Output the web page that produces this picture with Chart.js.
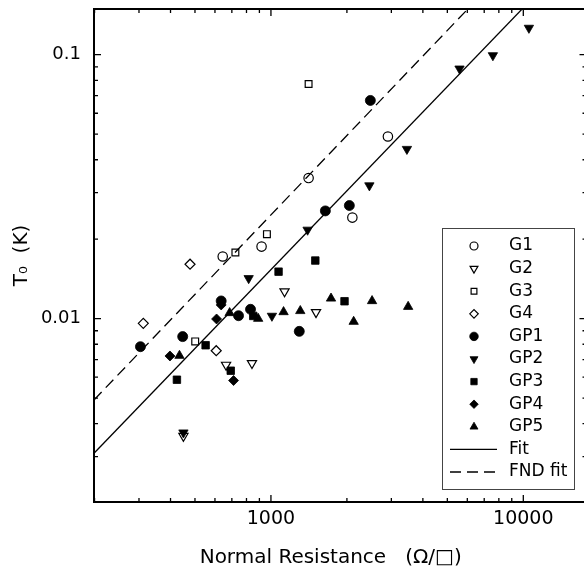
<!DOCTYPE html>
<html>
<head>
<meta charset="utf-8">
<script src="https://cdn.jsdelivr.net/npm/chart.js"></script>
<style>
  html, body { margin: 0; padding: 0; background: #fff; overflow: hidden; }
  #wrap { width: 593px; height: 580px; }
</style>
</head>
<body>
<div id="wrap"><canvas id="c" width="593" height="580"></canvas></div>
<script>
// values: normal resistance (ohm/sq) and T0 (K)
var g1R = [644, 918, 1410, 2907, 2102];
var g1T = [0.0172, 0.01875, 0.0341, 0.049, 0.02415];
var g2R = [1132, 1509, 664, 841, 450];
var g2T = [0.01268, 0.01057, 0.00668, 0.00678, 0.00359];
var g3R = [1410, 964, 723, 501];
var g3T = [0.0774, 0.0209, 0.01782, 0.0082];
var g4R = [478, 312, 607];
var g4T = [0.01608, 0.0096, 0.00756];
var gp1R = [2477, 1643, 2045, 635, 744, 830, 1295, 447, 304];
var gp1T = [0.0671, 0.0256, 0.02683, 0.01167, 0.01026, 0.01085, 0.00895, 0.00855, 0.00783];
var gp2R = [10525, 7576, 5588, 3458, 2455, 1397, 816, 1009, 450];
var gp2T = [0.1263, 0.0994, 0.0885, 0.0439, 0.03195, 0.0217, 0.01422, 0.01024, 0.0037];
var gp3R = [1499, 1072, 1957, 851, 551, 424, 693];
var gp3T = [0.0166, 0.01507, 0.01164, 0.01024, 0.00793, 0.00587, 0.00635];
var gp4R = [609, 398, 711, 635];
var gp4T = [0.00997, 0.00722, 0.00583, 0.01127];
var gp5R = [686, 434, 890, 1122, 1307, 1730, 2127, 2516, 3497];
var gp5T = [0.01051, 0.00724, 0.0100, 0.0106, 0.0107, 0.01193, 0.00974, 0.01167, 0.0111];

// fit lines (end points)
var fitR = [199, 11000];
var fitT = [0.00309, 0.1655];
var fndR = [199, 7000];
var fndT = [0.00492, 0.173];

// ticks
var xMajor = [1000, 10000];
var xMinor = [200, 300, 400, 500, 600, 700, 800, 900, 2000, 3000, 4000, 5000, 6000, 7000, 8000, 9000];
var yMajor = [0.01, 0.1];
var yMinor = [0.003, 0.004, 0.005, 0.006, 0.007, 0.008, 0.009, 0.02, 0.03, 0.04, 0.05, 0.06, 0.07, 0.08, 0.09];

var family = "'DejaVu Sans', 'Liberation Sans', sans-serif";

function pts(xs, ys) {
    return xs.map(function (v, i) { return {x: v, y: ys[i]}; });
}

function series(label, xs, ys, style, filled, rot, r) {
    return {
        label: label,
        data: pts(xs, ys),
        showLine: false,
        pointStyle: style,
        pointRotation: rot,
        pointRadius: r,
        pointHoverRadius: r,
        pointBorderWidth: filled ? 0.8 : 1.2,
        pointBackgroundColor: filled ? '#000' : 'rgba(0,0,0,0)',
        pointBorderColor: '#000',
        borderColor: '#000'
    };
}

function fitLine(label, xs, ys, dash) {
    return {
        label: label,
        data: pts(xs, ys),
        showLine: true,
        borderColor: '#000',
        borderWidth: 1.3,
        borderDash: dash,
        pointRadius: 0,
        pointHoverRadius: 0,
        fill: false
    };
}

// frame + inward tick marks on all four sides
var frame = {
    id: 'frame',
    afterDatasetsDraw: function (chart) {
        var ctx = chart.ctx, a = chart.chartArea;
        var x = chart.scales.x, y = chart.scales.y;
        ctx.save();
        ctx.strokeStyle = '#000';
        ctx.lineWidth = 1.3;
        ctx.beginPath();
        function xt(v, len) {
            var p = x.getPixelForValue(v);
            ctx.moveTo(p, a.bottom); ctx.lineTo(p, a.bottom - len);
            ctx.moveTo(p, a.top); ctx.lineTo(p, a.top + len);
        }
        function yt(v, len) {
            var p = y.getPixelForValue(v);
            ctx.moveTo(a.left, p); ctx.lineTo(a.left + len, p);
            ctx.moveTo(a.right, p); ctx.lineTo(a.right - len, p);
        }
        xMajor.forEach(function (v) { xt(v, 7); });
        xMinor.forEach(function (v) { xt(v, 4); });
        yMajor.forEach(function (v) { yt(v, 7); });
        yMinor.forEach(function (v) { yt(v, 4); });
        ctx.stroke();
        ctx.lineWidth = 2;
        ctx.strokeRect(a.left, a.top, a.right - a.left, a.bottom - a.top);
        ctx.restore();
    }
};

// legend box inside the plot
var legendBox = {
    id: 'legendBox',
    afterDraw: function (chart) {
        var ctx = chart.ctx;
        var bx = 442, by = 228, bw = 132, bh = 261;
        ctx.save();
        ctx.fillStyle = '#fff';
        ctx.fillRect(bx, by, bw, bh);
        ctx.strokeStyle = '#444';
        ctx.lineWidth = 1;
        ctx.strokeRect(bx + 0.5, by + 0.5, bw, bh);
        ctx.font = '17px ' + family;
        ctx.textBaseline = 'middle';
        ctx.textAlign = 'left';
        chart.data.datasets.forEach(function (ds, i) {
            var ry = 246 + i * 22.6;
            if (ds.showLine) {
                ctx.strokeStyle = '#000';
                ctx.lineWidth = 1.3;
                ctx.setLineDash(ds.borderDash || []);
                ctx.beginPath();
                ctx.moveTo(450, ry);
                ctx.lineTo(497, ry);
                ctx.stroke();
                ctx.setLineDash([]);
            } else {
                ctx.fillStyle = ds.pointBackgroundColor;
                ctx.strokeStyle = '#000';
                ctx.lineWidth = ds.pointBorderWidth;
                Chart.helpers.drawPoint(ctx, {
                    pointStyle: ds.pointStyle,
                    rotation: ds.pointRotation,
                    radius: ds.pointRadius * 0.85,
                    borderWidth: ds.pointBorderWidth
                }, 474, ry);
            }
            ctx.fillStyle = '#000';
            ctx.fillText(ds.label, 509, ry);
        });
        ctx.restore();
    }
};

var chart = new Chart(document.getElementById('c'), {
    type: 'scatter',
    data: {
        datasets: [
            series('G1', g1R, g1T, 'circle', false, 0, 4.7),
            series('G2', g2R, g2T, 'triangle', false, 180, 5.3),
            series('G3', g3R, g3T, 'rect', false, 0, 4.8),
            series('G4', g4R, g4T, 'rectRot', false, 0, 5),
            series('GP1', gp1R, gp1T, 'circle', true, 0, 5),
            series('GP2', gp2R, gp2T, 'triangle', true, 180, 5.4),
            series('GP3', gp3R, gp3T, 'rect', true, 0, 5.3),
            series('GP4', gp4R, gp4T, 'rectRot', true, 0, 5),
            series('GP5', gp5R, gp5T, 'triangle', true, 0, 5.4),
            fitLine('Fit', fitR, fitT, []),
            fitLine('FND fit', fndR, fndT, [11, 6])
        ]
    },
    options: {
        responsive: false,
        animation: false,
        devicePixelRatio: 1,
        layout: {padding: {top: 9, right: 0, left: 0, bottom: 0}},
        plugins: {
            legend: {display: false},
            tooltip: {enabled: false}
        },
        scales: {
            x: {
                type: 'logarithmic',
                min: 199,
                max: 17800,
                afterBuildTicks: function (s) { s.ticks = xMajor.map(function (v) { return {value: v}; }); },
                afterFit: function (s) { s.height = 78; s.paddingLeft = 0; s.paddingRight = 0; },
                grid: {display: false, drawTicks: false},
                border: {display: false},
                ticks: {
                    padding: 6, color: '#000', autoSkip: false, maxRotation: 0,
                    font: {family: family, size: 19},
                    callback: function (v) { return String(v); }
                },
                title: {
                    display: true, text: 'Normal Resistance   (\u03A9/\u25A1)   ', color: '#000',
                    font: {family: family, size: 20}, padding: {top: 0, bottom: 10}
                }
            },
            y: {
                type: 'logarithmic',
                min: 0.00202,
                max: 0.149,
                afterBuildTicks: function (s) { s.ticks = yMajor.map(function (v) { return {value: v}; }); },
                afterFit: function (s) { s.width = 94; s.paddingTop = 0; s.paddingBottom = 0; },
                grid: {display: false, drawTicks: false},
                border: {display: false},
                ticks: {
                    padding: 13, color: '#000', autoSkip: false,
                    font: {family: family, size: 18},
                    callback: function (v) { return String(v); }
                },
                title: {
                    display: true, text: 'T\u2080  (K)', color: '#000',
                    font: {family: family, size: 20}, padding: {top: 10, bottom: 0}
                }
            }
        }
    },
    plugins: [frame, legendBox]
});
</script>
</body>
</html>
